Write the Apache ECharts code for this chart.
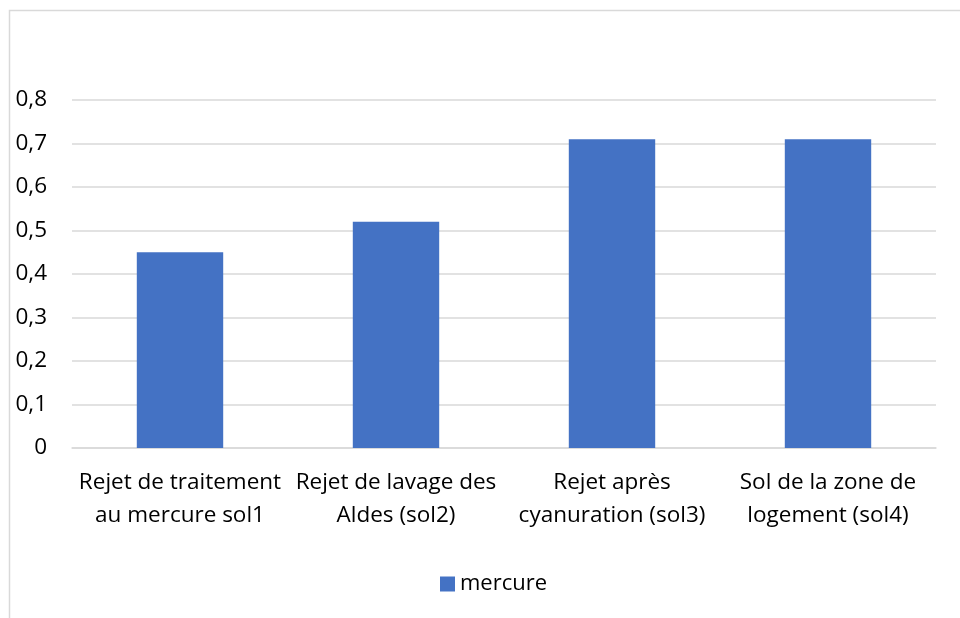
<!DOCTYPE html>
<html>
<head>
<meta charset="utf-8">
<script src="https://cdn.jsdelivr.net/npm/echarts@6/dist/echarts.min.js"></script>
<style>
    html, body { margin: 0; padding: 0; background: #fff; }
    #chart { width: 960px; height: 618px; }
</style>
</head>
<body>
<div id="chart"></div>
<script>
// données du graphique
const categories = [
    'Rejet de traitement\nau mercure sol1',
    'Rejet de lavage des\nAldes (sol2)',
    'Rejet après\ncyanuration (sol3)',
    'Sol de la zone de\nlogement (sol4)'
]
const seriesName = 'mercure'
const mercure = [0.45, 0.52, 0.71, 0.71]

const FONT = '"Open Sans", sans-serif'

let myChart = echarts.init(document.getElementById('chart'))
let option = {
    animation: false,
    textStyle: { fontFamily: FONT },
    graphic: [{
        type: 'rect',
        shape: { x: 9.5, y: 10.5, width: 1000, height: 700 },
        style: { fill: 'none', stroke: '#d9d9d9', lineWidth: 1.5 },
        silent: true
    }],
    grid: {
        left: 72,
        right: 24,
        top: 100,
        bottom: 170
    },
    legend: {
        top: 568,
        left: 435,
        icon: 'rect',
        itemWidth: 15,
        itemHeight: 15,
        itemGap: 8,
        textStyle: { fontSize: 22, color: '#000', fontFamily: FONT },
        data: [seriesName]
    },
    xAxis: {
        type: 'category',
        data: categories,
        axisLine: { lineStyle: { color: '#d9d9d9', width: 1.5 } },
        axisTick: { show: false },
        axisLabel: {
            interval: 0,
            color: '#000',
            fontSize: 22.5,
            lineHeight: 33,
            margin: 18,
            fontFamily: FONT
        }
    },
    yAxis: {
        type: 'value',
        min: 0,
        max: 0.8,
        interval: 0.1,
        axisLine: { show: false },
        axisTick: { show: false },
        splitLine: { lineStyle: { color: '#d9d9d9', width: 1.5 } },
        axisLabel: {
            color: '#000',
            fontSize: 22.5,
            margin: 25,
            fontFamily: FONT,
            formatter: v => (Math.round(v * 10) / 10).toString().replace('.', ',')
        }
    },
    series: [{
        name: seriesName,
        type: 'bar',
        data: mercure,
        barWidth: '40%',
        itemStyle: { color: '#4472C4' }
    }]
}
myChart.setOption(option)
</script>
</body>
</html>
